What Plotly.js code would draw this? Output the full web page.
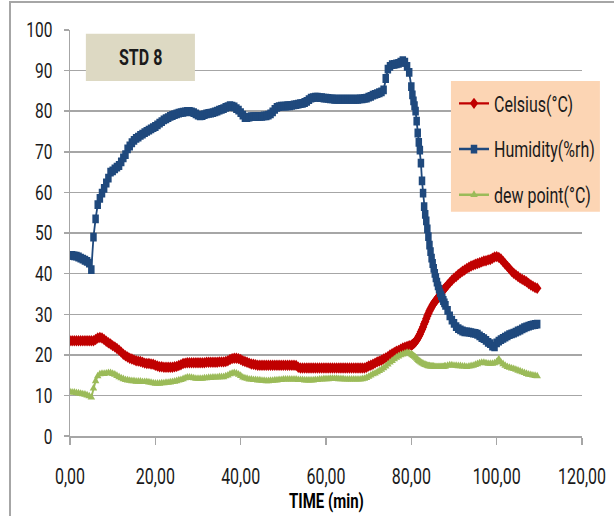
<!DOCTYPE html>
<html>
<head>
<meta charset="utf-8">
<script src="https://cdn.plot.ly/plotly-3.0.1.min.js"></script>
<style>
  html, body { margin: 0; padding: 0; background: #ffffff; overflow: hidden; }
  #wrap { position: relative; width: 614px; height: 516px; overflow: hidden; }
  #frame { position: absolute; left: 9px; top: 1px; width: 700px; height: 700px;
           border-left: 2px solid #a6a6a6; border-top: 2px solid #a6a6a6; box-sizing: border-box; }
  /* the chart is laid out at a reduced height and stretched vertically,
     giving the tall, narrow lettering of the original export */
  #chart { position: absolute; left: 0; top: 0; width: 614px; height: 382px;
           transform: scaleY(1.3508); transform-origin: 0 0; }
</style>
</head>
<body>
<div id="wrap">
  <div id="frame"></div>
  <div id="chart"></div>
</div>
<script>
// Sampling times (min)
const time = [
  0,0.5,1,1.5,2,2.5,3,3.5,4,4.5,5,5.5,6,6.5,7,7.5,8,8.5,9,9.5,
  10,10.5,11,11.5,12,12.5,13,13.5,14,14.5,15,15.5,16,16.5,17,17.5,18,18.5,19,19.5,
  20,20.5,21,21.5,22,22.5,23,23.5,24,24.5,25,25.5,26,26.5,27,27.5,28,28.5,29,29.5,
  30,30.5,31,31.5,32,32.5,33,33.5,34,34.5,35,35.5,36,36.5,37,37.5,38,38.5,39,39.5,
  40,40.5,41,41.5,42,42.5,43,43.5,44,44.5,45,45.5,46,46.5,47,47.5,48,48.5,49,49.5,
  50,50.5,51,51.5,52,52.5,53,53.5,54,54.5,55,55.5,56,56.5,57,57.5,58,58.5,59,59.5,
  60,60.5,61,61.5,62,62.5,63,63.5,64,64.5,65,65.5,66,66.5,67,67.5,68,68.5,69,69.5,
  70,70.5,71,71.5,72,72.5,73,73.5,74,74.5,75,75.5,76,76.5,77,77.5,78,78.5,79,79.5,
  80,80.25,80.5,80.75,81,81.25,81.5,81.75,82,82.25,82.5,82.75,83,83.25,83.5,83.75,
  84,84.25,84.5,84.75,85,85.25,85.5,85.75,86,86.25,86.5,86.75,87,87.25,87.5,87.75,
  88,88.5,89,89.5,90,90.5,91,91.5,92,92.5,93,93.5,94,94.5,95,95.5,96,96.5,97,97.5,
  98,98.5,99,99.5,100,100.5,101,101.5,102,102.5,103,103.5,104,104.5,105,105.5,106,106.5,107,107.5,
  108,108.5,109,109.5
];

// Temperature (°C)
const celsius = [
  23.5,23.5,23.5,23.5,23.5,23.5,23.5,23.5,23.5,23.5,23.5,23.5,23.8,24.2,24.3,24.2,23.8,23.4,23.0,22.7,
  22.3,22.0,21.6,21.2,20.7,20.2,19.8,19.5,19.2,19.0,18.8,18.6,18.5,18.4,18.2,18.0,17.9,17.9,17.8,17.7,
  17.5,17.3,17.1,17.1,17.0,17.0,17.0,17.0,17.0,17.1,17.2,17.4,17.6,17.9,18.0,18.1,18.1,18.1,18.1,18.1,
  18.1,18.1,18.1,18.1,18.2,18.2,18.2,18.2,18.2,18.2,18.3,18.3,18.3,18.4,18.6,18.9,19.1,19.2,19.2,19.1,
  18.9,18.6,18.4,18.2,18.0,17.8,17.7,17.6,17.5,17.5,17.5,17.5,17.5,17.5,17.5,17.5,17.5,17.5,17.5,17.5,
  17.5,17.5,17.5,17.5,17.5,17.5,17.4,17.0,16.8,16.8,16.8,16.8,16.8,16.8,16.8,16.8,16.8,16.8,16.8,16.8,
  16.8,16.8,16.8,16.8,16.8,16.8,16.8,16.8,16.8,16.8,16.8,16.8,16.8,16.8,16.8,16.8,16.8,16.8,16.8,17.0,
  17.3,17.5,17.7,18.0,18.3,18.5,18.7,19.0,19.3,19.6,20.0,20.3,20.6,20.9,21.1,21.4,21.7,21.9,22.1,22.3,
  22.4,22.6,22.8,23.0,23.3,23.7,24.1,24.6,25.1,25.7,26.3,26.9,27.6,28.2,28.9,29.6,
  30.2,30.8,31.3,31.8,32.3,32.7,33.1,33.4,33.7,34.1,34.5,34.9,35.3,35.6,36.0,36.3,
  36.6,37.2,37.8,38.4,38.9,39.3,39.8,40.2,40.6,40.9,41.3,41.6,41.9,42.1,42.3,42.5,42.7,42.9,43.1,43.2,
  43.4,43.5,43.8,44.1,44.2,44.0,43.6,43.0,42.4,41.8,41.2,40.6,40.1,39.7,39.3,38.9,38.6,38.3,38.0,37.6,
  37.2,36.9,36.6,36.4
];

// Relative humidity (%rh)
const humidity = [
  44.5,44.5,44.4,44.3,44.1,43.8,43.6,43.3,43.0,42.6,41.0,49.0,53.5,57.0,58.5,59.8,61.0,62.3,63.5,65.0,
  65.3,65.8,66.2,66.6,67.5,68.5,69.3,70.7,71.4,72.2,72.8,73.3,73.6,74.0,74.3,74.7,75.0,75.3,75.6,75.9,
  76.2,76.6,77.0,77.4,77.8,78.1,78.4,78.7,78.9,79.1,79.3,79.5,79.6,79.7,79.8,79.9,79.9,79.8,79.6,79.3,
  79.0,78.8,78.9,79.1,79.3,79.4,79.5,79.6,79.8,80.0,80.2,80.4,80.6,80.9,81.1,81.3,81.2,81.0,80.6,80.2,
  79.6,79.0,78.4,78.4,78.5,78.6,78.6,78.6,78.7,78.7,78.7,78.8,78.8,79.0,79.3,79.8,80.4,80.9,81.1,81.2,
  81.2,81.2,81.3,81.3,81.4,81.5,81.6,81.7,81.8,81.9,82.1,82.4,82.8,83.2,83.3,83.4,83.4,83.3,83.3,83.2,
  83.2,83.1,83.0,83.0,82.9,82.9,82.9,82.9,82.9,82.9,82.9,82.9,82.9,82.9,82.9,82.9,83.0,83.0,83.1,83.2,
  83.4,83.6,83.9,84.1,84.3,84.5,84.7,85.2,88.0,90.3,91.0,91.4,91.5,91.6,91.7,92.0,92.4,92.0,91.0,89.5,
  86.0,84.0,82.5,81.3,80.0,77.5,74.6,72.3,70.4,67.2,62.8,59.8,56.5,54.6,53.0,51.0,
  49.1,47.0,45.4,43.8,42.5,41.3,40.1,39.0,37.9,37.0,36.2,35.3,34.6,34.0,33.4,32.8,
  32.2,31.0,29.6,28.6,27.8,27.0,26.5,26.2,25.9,25.7,25.7,25.6,25.5,25.4,25.3,25.1,24.7,24.3,24.0,23.6,
  23.1,22.8,22.2,22.0,23.0,23.4,23.8,24.1,24.4,24.7,25.0,25.2,25.4,25.6,25.9,26.1,26.4,26.7,26.9,27.1,
  27.3,27.4,27.5,27.6
];

// Dew point (°C)
const dewPoint = [
  10.9,10.8,10.8,10.7,10.6,10.5,10.4,10.3,10.1,9.9,9.6,11.8,13.6,14.8,15.3,15.4,15.4,15.5,15.6,15.6,
  15.4,15.2,14.9,14.6,14.3,14.1,13.9,13.8,13.7,13.6,13.6,13.5,13.5,13.5,13.4,13.4,13.4,13.3,13.2,13.1,
  13.0,13.0,13.0,13.1,13.1,13.2,13.2,13.3,13.4,13.5,13.6,13.8,13.9,14.1,14.3,14.5,14.5,14.4,14.3,14.2,
  14.2,14.2,14.2,14.3,14.3,14.4,14.4,14.5,14.5,14.5,14.6,14.6,14.6,14.8,15.0,15.3,15.5,15.6,15.5,15.2,
  14.9,14.5,14.3,14.2,14.0,14.0,13.9,13.9,13.8,13.8,13.7,13.7,13.6,13.6,13.7,13.7,13.8,13.8,13.9,13.9,
  14.0,14.0,14.0,14.0,14.0,14.0,14.0,13.9,13.9,13.9,13.8,13.8,13.8,13.8,13.8,13.9,13.9,14.0,14.0,14.1,
  14.1,14.1,14.2,14.2,14.2,14.2,14.1,14.1,14.1,14.0,14.0,14.0,14.0,14.0,14.0,14.0,14.0,14.1,14.2,14.4,
  14.7,15.0,15.3,15.5,15.8,16.1,16.4,16.8,17.2,17.7,18.2,18.6,19.0,19.4,19.7,20.0,20.2,20.4,20.6,20.5,
  20.2,20.0,19.8,19.6,19.4,19.1,18.8,18.6,18.4,18.2,18.0,17.9,17.7,17.6,17.5,17.4,
  17.3,17.3,17.2,17.2,17.2,17.2,17.1,17.1,17.1,17.1,17.1,17.1,17.1,17.1,17.1,17.2,
  17.2,17.4,17.5,17.5,17.4,17.4,17.3,17.3,17.2,17.2,17.1,17.2,17.3,17.4,17.6,17.8,18.0,18.1,18.1,18.0,
  17.9,17.9,17.9,18.0,18.3,19.0,18.2,17.8,17.4,17.1,16.9,16.7,16.6,16.4,16.2,16.0,15.8,15.6,15.4,15.2,
  15.1,15.0,14.9,14.8
];

const seriesNames = ['Celsius(°C)', 'Humidity(%rh)', 'dew point(°C)'];
const xTicks = [0, 20, 40, 60, 80, 100, 120];
const yTicks = [0, 10, 20, 30, 40, 50, 60, 70, 80, 90, 100];

const FONT = 'Roboto, "Liberation Sans", sans-serif';
const GRID = '#a6a6a6';
const INK = '#1a1a1a';

function series(y, name, color, symbol, group) {
  return {
    x: time, y: y, name: name, type: 'scatter', mode: 'lines+markers',
    legendgroup: group,
    line: { color: color, width: 1.8 },
    marker: { color: color, symbol: symbol, size: 6.5, line: { width: 0 } }
  };
}

const data = [
  series(celsius, seriesNames[0], '#c00000', 'diamond', 'a'),
  series(humidity, seriesNames[1], '#1f497d', 'square', 'b'),
  series(dewPoint, seriesNames[2], '#9bbb59', 'triangle-up', 'c')
];

const layout = {
  width: 614, height: 382,
  margin: { l: 70, r: 32, t: 22, b: 59, autoexpand: false },
  paper_bgcolor: 'rgba(0,0,0,0)',
  plot_bgcolor: 'rgba(0,0,0,0)',
  separators: ',.',
  font: { family: FONT, size: 16, color: INK },
  showlegend: true,
  legend: {
    x: 0.75, y: 0.875, xanchor: 'left', yanchor: 'top',
    bgcolor: 'rgba(0,0,0,0)', borderwidth: 0,
    traceorder: 'grouped', tracegroupgap: 10,
    font: { family: FONT, size: 16, color: INK }
  },
  xaxis: {
    range: [0, 120], tickvals: xTicks, tickformat: '.2f',
    showgrid: false, zeroline: false,
    showline: true, linecolor: GRID, linewidth: 1.2,
    ticks: 'outside', ticklen: 5, tickcolor: GRID, tickwidth: 1.5,
    ticklabelstandoff: 10,
    tickfont: { family: FONT, size: 16, color: INK }
  },
  yaxis: {
    range: [0, 100], tickvals: yTicks,
    showgrid: true, gridcolor: GRID, gridwidth: 1.2,
    zeroline: false,
    showline: true, linecolor: GRID, linewidth: 1.5,
    ticks: 'outside', ticklen: 5, tickcolor: GRID, tickwidth: 1.2,
    ticklabelstandoff: 8,
    tickfont: { family: FONT, size: 15.5, color: INK }
  },
  shapes: [
    { type: 'rect', xref: 'paper', yref: 'paper', layer: 'above',
      x0: 0.031, x1: 0.244, y0: 0.874, y1: 0.990,
      fillcolor: '#ddd9c3', line: { width: 0 } },
    { type: 'rect', xref: 'paper', yref: 'paper', layer: 'above',
      x0: 0.744, x1: 1.035, y0: 0.552, y1: 0.874,
      fillcolor: '#fcd5b4', line: { width: 0 } }
  ],
  annotations: [
    { text: '<b>STD 8</b>', xref: 'paper', yref: 'paper', x: 0.138, y: 0.931,
      showarrow: false, xanchor: 'center', yanchor: 'middle',
      font: { family: FONT, size: 16, color: INK } },
    // x-axis title
    { text: '<b>TIME (min)</b>', xref: 'paper', yref: 'paper', x: 0.5, y: -0.1605,
      showarrow: false, xanchor: 'center', yanchor: 'middle', borderpad: 0,
      font: { family: FONT, size: 15, color: '#000000' } }
  ]
};

Plotly.newPlot('chart', data, layout, { displayModeBar: false, staticPlot: true });
</script>
</body>
</html>
